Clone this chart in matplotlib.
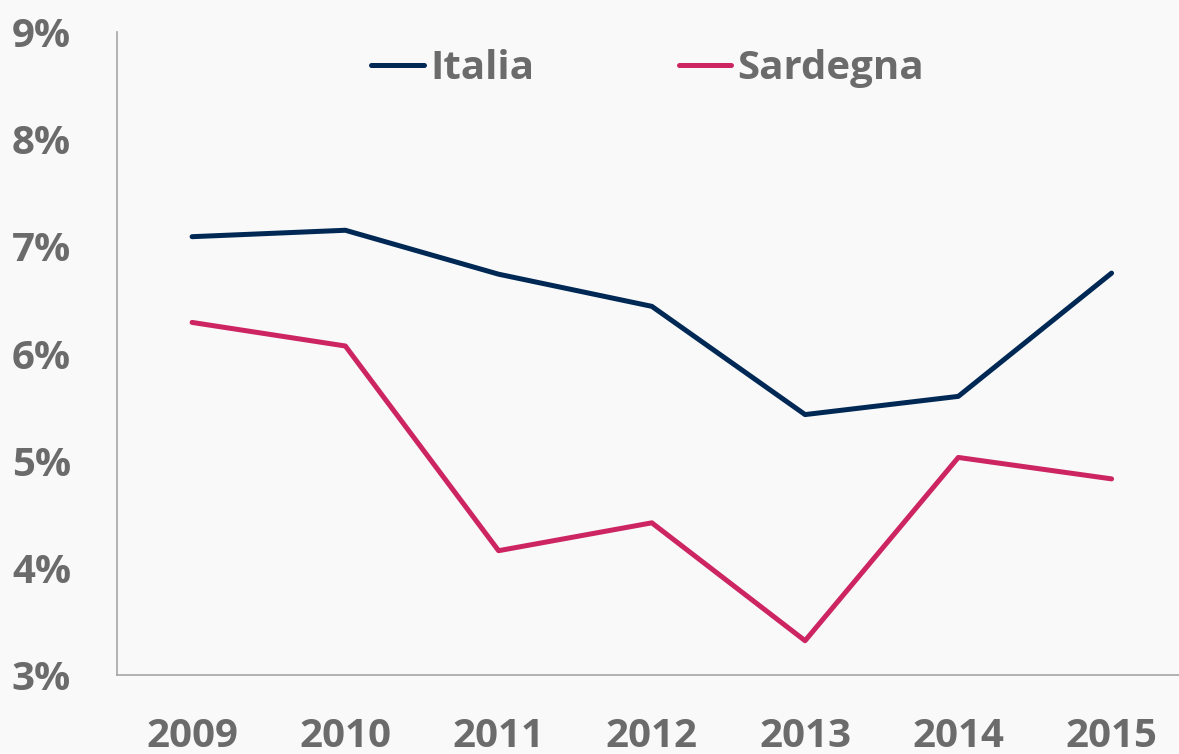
import matplotlib
matplotlib.use("Agg")
import matplotlib.pyplot as plt

years = ['2009', '2010', '2011', '2012', '2013', '2014', '2015']
italia = [7.09, 7.15, 6.74, 6.44, 5.43, 5.60, 6.75]
sardegna = [6.29, 6.07, 4.16, 4.42, 3.32, 5.03, 4.83]
yticks = [3, 4, 5, 6, 7, 8, 9]

bg = '#F9F9F9'
grey = '#6B6B6B'
plt.rcParams['font.family'] = ['Open Sans', 'DejaVu Sans']
plt.rcParams['font.weight'] = 'bold'

fig = plt.figure(figsize=(11.79, 7.54), dpi=100, facecolor=bg)
ax = fig.add_axes([117 / 1179, 1 - 675 / 754, 1 - 117 / 1179, (675 - 32) / 754])
ax.set_facecolor(bg)

x = range(len(years))
ax.plot(x, italia, color='#002855', lw=3.6, solid_capstyle='round',
        solid_joinstyle='round', label='Italia')
ax.plot(x, sardegna, color='#CC2561', lw=3.6, solid_capstyle='round',
        solid_joinstyle='round', label='Sardegna')

ax.set_xlim(-0.49, 6.44)
ax.set_ylim(3, 9)
ax.set_xticks(list(x))
ax.set_xticklabels(years)
ax.set_yticks(yticks)
ax.set_yticklabels(['{}%'.format(v) for v in yticks])
ax.tick_params(length=0, labelsize=29, labelcolor=grey)
ax.tick_params(axis='x', pad=30)
ax.tick_params(axis='y', pad=33)
for lab in ax.get_xticklabels() + ax.get_yticklabels():
    lab.set_fontweight('bold')

for side in ['top', 'right']:
    ax.spines[side].set_visible(False)
for side in ['left', 'bottom']:
    ax.spines[side].set_color('#A6A6A6')
    ax.spines[side].set_linewidth(1.2)

leg = ax.legend(ncol=2, loc='upper left', bbox_to_anchor=(0.2055, 1.03),
                frameon=False, fontsize=29, handlelength=1.3,
                handletextpad=0.15, columnspacing=3.6)
for t in leg.get_texts():
    t.set_color(grey)
    t.set_fontweight('bold')
for h in leg.get_lines():
    h.set_linewidth(3.6)

fig.savefig('out.png', dpi=100, facecolor=bg)
